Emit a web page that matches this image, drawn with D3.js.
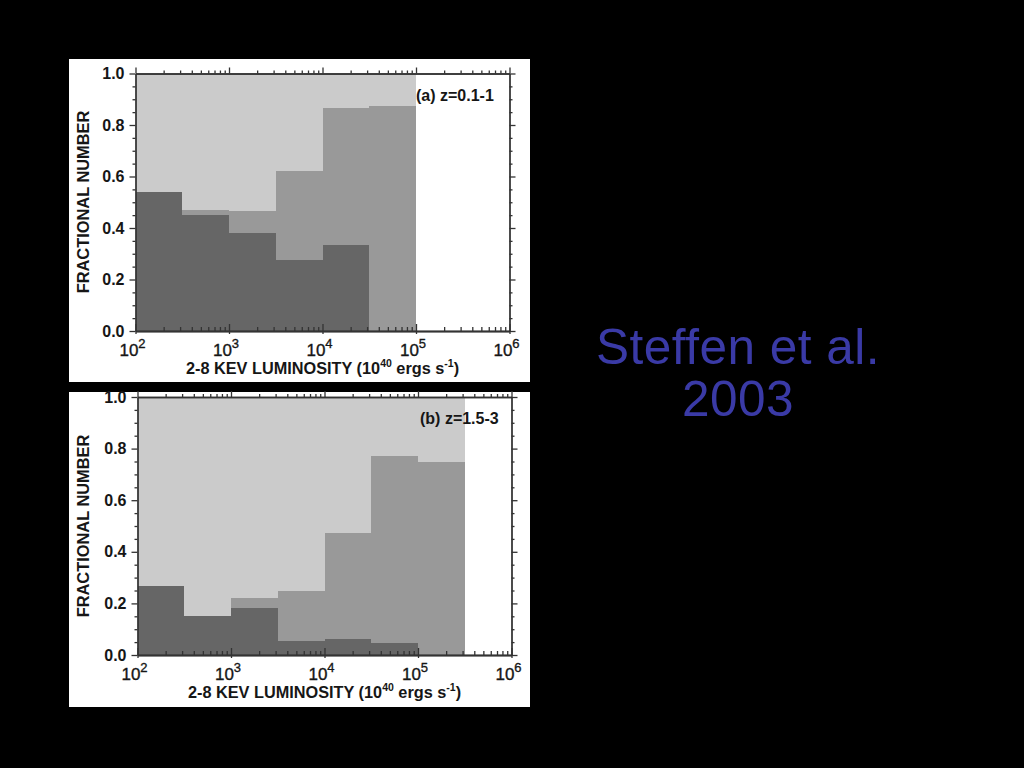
<!DOCTYPE html>
<html>
<head>
<meta charset="utf-8">
<script src="https://cdn.jsdelivr.net/npm/d3@7"></script>
<style>
  html, body { margin: 0; padding: 0; background: #000; }
  svg { display: block; }
  text { font-variant-ligatures: none; font-feature-settings: "liga" 0; }
</style>
</head>
<body>
<svg id="chart" width="1024" height="768"></svg>
<script>
// ---- Data ----
// Bin lower edges (log10 of luminosity, 10^40 ergs/s), each bin spans half a decade
const binStartsA = [2, 2.5, 3, 3.5, 4, 4.5];
const darkA   = [0.54, 0.45, 0.38, 0.275, 0.335, 0];
const mediumA = [0.54, 0.47, 0.465, 0.62, 0.865, 0.875];
const lightA  = [1, 1, 1, 1, 1, 1];

const binStartsB = [2, 2.5, 3, 3.5, 4, 4.5, 5];
const darkB   = [0.267, 0.15, 0.183, 0.055, 0.062, 0.045, 0];
const mediumB = [0.267, 0.15, 0.222, 0.248, 0.471, 0.77, 0.747];
const lightB  = [1, 1, 1, 1, 1, 1, 1];

const binWidth = 0.5;
const xDecades = [2, 3, 4, 5, 6];
const yTicks = [0, 0.2, 0.4, 0.6, 0.8, 1.0];
const panelLabels = ["(a) z=0.1-1", "(b) z=1.5-3"];
const yTitle = "FRACTIONAL NUMBER";
const titleLines = ["Steffen et al.", "2003"];

// ---- Layout ----
const svg = d3.select("#chart");
svg.append("rect").attr("width", 1024).attr("height", 768).attr("fill", "#000");

const colors = { light: "#cbcbcb", medium: "#999999", dark: "#666666" };
const FONT = "'Liberation Sans', Arial, Helvetica, sans-serif";
const INK = "#161616";

const panels = [
  { box: [69, 59, 461, 323], plot: { x0: 135.5, x1: 509.5, y0: 331, y1: 73.5 },
    starts: binStartsA, dark: darkA, medium: mediumA, light: lightA, label: panelLabels[0],
    labelPos: [416, 101], titleY: 374, yTitleC: 202 },
  { box: [69, 392, 461, 315], plot: { x0: 137.5, x1: 511.5, y0: 655, y1: 397 },
    starts: binStartsB, dark: darkB, medium: mediumB, light: lightB, label: panelLabels[1],
    labelPos: [420, 424], titleY: 698, yTitleC: 526 }
];

panels.forEach(p => {
  const g = svg.append("g");
  g.append("rect")
    .attr("x", p.box[0]).attr("y", p.box[1])
    .attr("width", p.box[2]).attr("height", p.box[3])
    .attr("fill", "#fff");

  const x = d3.scaleLog().domain([1e2, 1e6]).range([p.plot.x0, p.plot.x1]);
  const y = d3.scaleLinear().domain([0, 1]).range([p.plot.y0, p.plot.y1]);

  const layers = [
    { vals: p.light, color: colors.light },
    { vals: p.medium, color: colors.medium },
    { vals: p.dark, color: colors.dark }
  ];
  layers.forEach(layer => {
    g.append("g").selectAll("rect")
      .data(p.starts.map((s, i) => ({ s, v: layer.vals[i] })).filter(d => d.v > 0))
      .join("rect")
      .attr("x", d => x(Math.pow(10, d.s)))
      .attr("width", d => x(Math.pow(10, d.s + binWidth)) - x(Math.pow(10, d.s)))
      .attr("y", d => y(d.v))
      .attr("height", d => y(0) - y(d.v))
      .attr("fill", layer.color)
      .attr("shape-rendering", "crispEdges");
  });

  // tick values
  const majorX = xDecades.map(e => Math.pow(10, e));
  const minorX = [];
  xDecades.slice(0, -1).forEach(e => { for (let k = 2; k <= 9; k++) minorX.push(k * Math.pow(10, e)); });
  const minorY = d3.range(0, 1.0001, 0.05).filter(v => Math.abs(Math.round(v * 5) - v * 5) > 1e-6);

  const axStroke = "#333";
  function styleAxis(sel) {
    sel.selectAll("path, line").attr("stroke", axStroke).attr("stroke-width", 1.3);
    sel.selectAll("text").remove();
  }

  // bottom axis (major crosses, minor inward)
  const bottom = g.append("g").attr("transform", `translate(0,${p.plot.y0})`);
  bottom.append("g").call(d3.axisBottom(x).tickValues(majorX).tickSizeInner(-7).tickSizeOuter(0)).call(styleAxis);
  bottom.append("g").call(d3.axisBottom(x).tickValues(majorX).tickSizeInner(3).tickSizeOuter(0)).call(styleAxis);
  bottom.append("g").call(d3.axisBottom(x).tickValues(minorX).tickSizeInner(-4).tickSizeOuter(0)).call(styleAxis);

  // top axis (outward)
  const top = g.append("g").attr("transform", `translate(0,${p.plot.y1})`);
  top.append("g").call(d3.axisTop(x).tickValues(majorX).tickSizeInner(6).tickSizeOuter(0)).call(styleAxis);
  top.append("g").call(d3.axisTop(x).tickValues(minorX).tickSizeInner(3).tickSizeOuter(0)).call(styleAxis);

  // left axis (outward)
  const left = g.append("g").attr("transform", `translate(${p.plot.x0},0)`);
  left.append("g").call(d3.axisLeft(y).tickValues(yTicks).tickSizeInner(6).tickSizeOuter(0)).call(styleAxis);
  left.append("g").call(d3.axisLeft(y).tickValues(minorY).tickSizeInner(3).tickSizeOuter(0)).call(styleAxis);

  // right axis (outward)
  const right = g.append("g").attr("transform", `translate(${p.plot.x1},0)`);
  right.append("g").call(d3.axisRight(y).tickValues(yTicks).tickSizeInner(6).tickSizeOuter(0)).call(styleAxis);
  right.append("g").call(d3.axisRight(y).tickValues(minorY).tickSizeInner(3).tickSizeOuter(0)).call(styleAxis);

  // y tick labels
  g.append("g").selectAll("text").data(yTicks).join("text")
    .attr("x", p.plot.x0 - 11)
    .attr("y", d => y(d) + 5.5)
    .attr("text-anchor", "end")
    .attr("font-family", FONT).attr("font-weight", "bold").attr("font-size", 16)
    .attr("fill", INK)
    .text(d => d.toFixed(1));

  // x tick labels 10^n
  const xl = g.append("g").selectAll("text").data(xDecades).join("text")
    .attr("x", d => x(Math.pow(10, d)) - 3)
    .attr("y", p.plot.y0 + 25)
    .attr("text-anchor", "middle")
    .attr("font-family", FONT).attr("font-size", 17)
    .attr("fill", INK)
    .attr("stroke", INK).attr("stroke-width", 0.35);
  xl.append("tspan").text("10");
  xl.append("tspan").attr("dy", -8).attr("font-size", 13).text(d => d);

  // x axis title
  const xt = g.append("text")
    .attr("x", (p.plot.x0 + p.plot.x1) / 2 - 0)
    .attr("y", p.titleY)
    .attr("text-anchor", "middle")
    .attr("font-family", FONT).attr("font-weight", "bold").attr("font-size", 16.3)
    .attr("fill", INK);
  xt.append("tspan").text("2-8 KEV LUMINOSITY (10");
  xt.append("tspan").attr("dy", -7).attr("font-size", 10.5).text("40");
  xt.append("tspan").attr("dy", 7).text(" ergs s");
  xt.append("tspan").attr("dy", -7).attr("font-size", 10.5).text("-1");
  xt.append("tspan").attr("dy", 7).text(")");

  // y axis title
  g.append("text")
    .attr("transform", `translate(89,${p.yTitleC}) rotate(-90)`)
    .attr("text-anchor", "middle")
    .attr("font-family", FONT).attr("font-weight", "bold").attr("font-size", 16.4)
    .attr("fill", INK)
    .text(yTitle);

  // panel label
  g.append("text")
    .attr("x", p.labelPos[0]).attr("y", p.labelPos[1])
    .attr("font-family", FONT).attr("font-weight", "bold").attr("font-size", 16)
    .attr("fill", INK)
    .text(p.label);
});

// Slide title
svg.append("g").selectAll("text").data(titleLines).join("text")
  .attr("x", 738)
  .attr("y", (d, i) => 364 + i * 52)
  .attr("text-anchor", "middle")
  .attr("font-family", FONT).attr("font-size", 49.5)
  .style("letter-spacing", "0.5px")
  .style("font-variant-ligatures", "none")
  .attr("fill", "#3a3aa6")
  .text(d => d);
</script>
</body>
</html>
